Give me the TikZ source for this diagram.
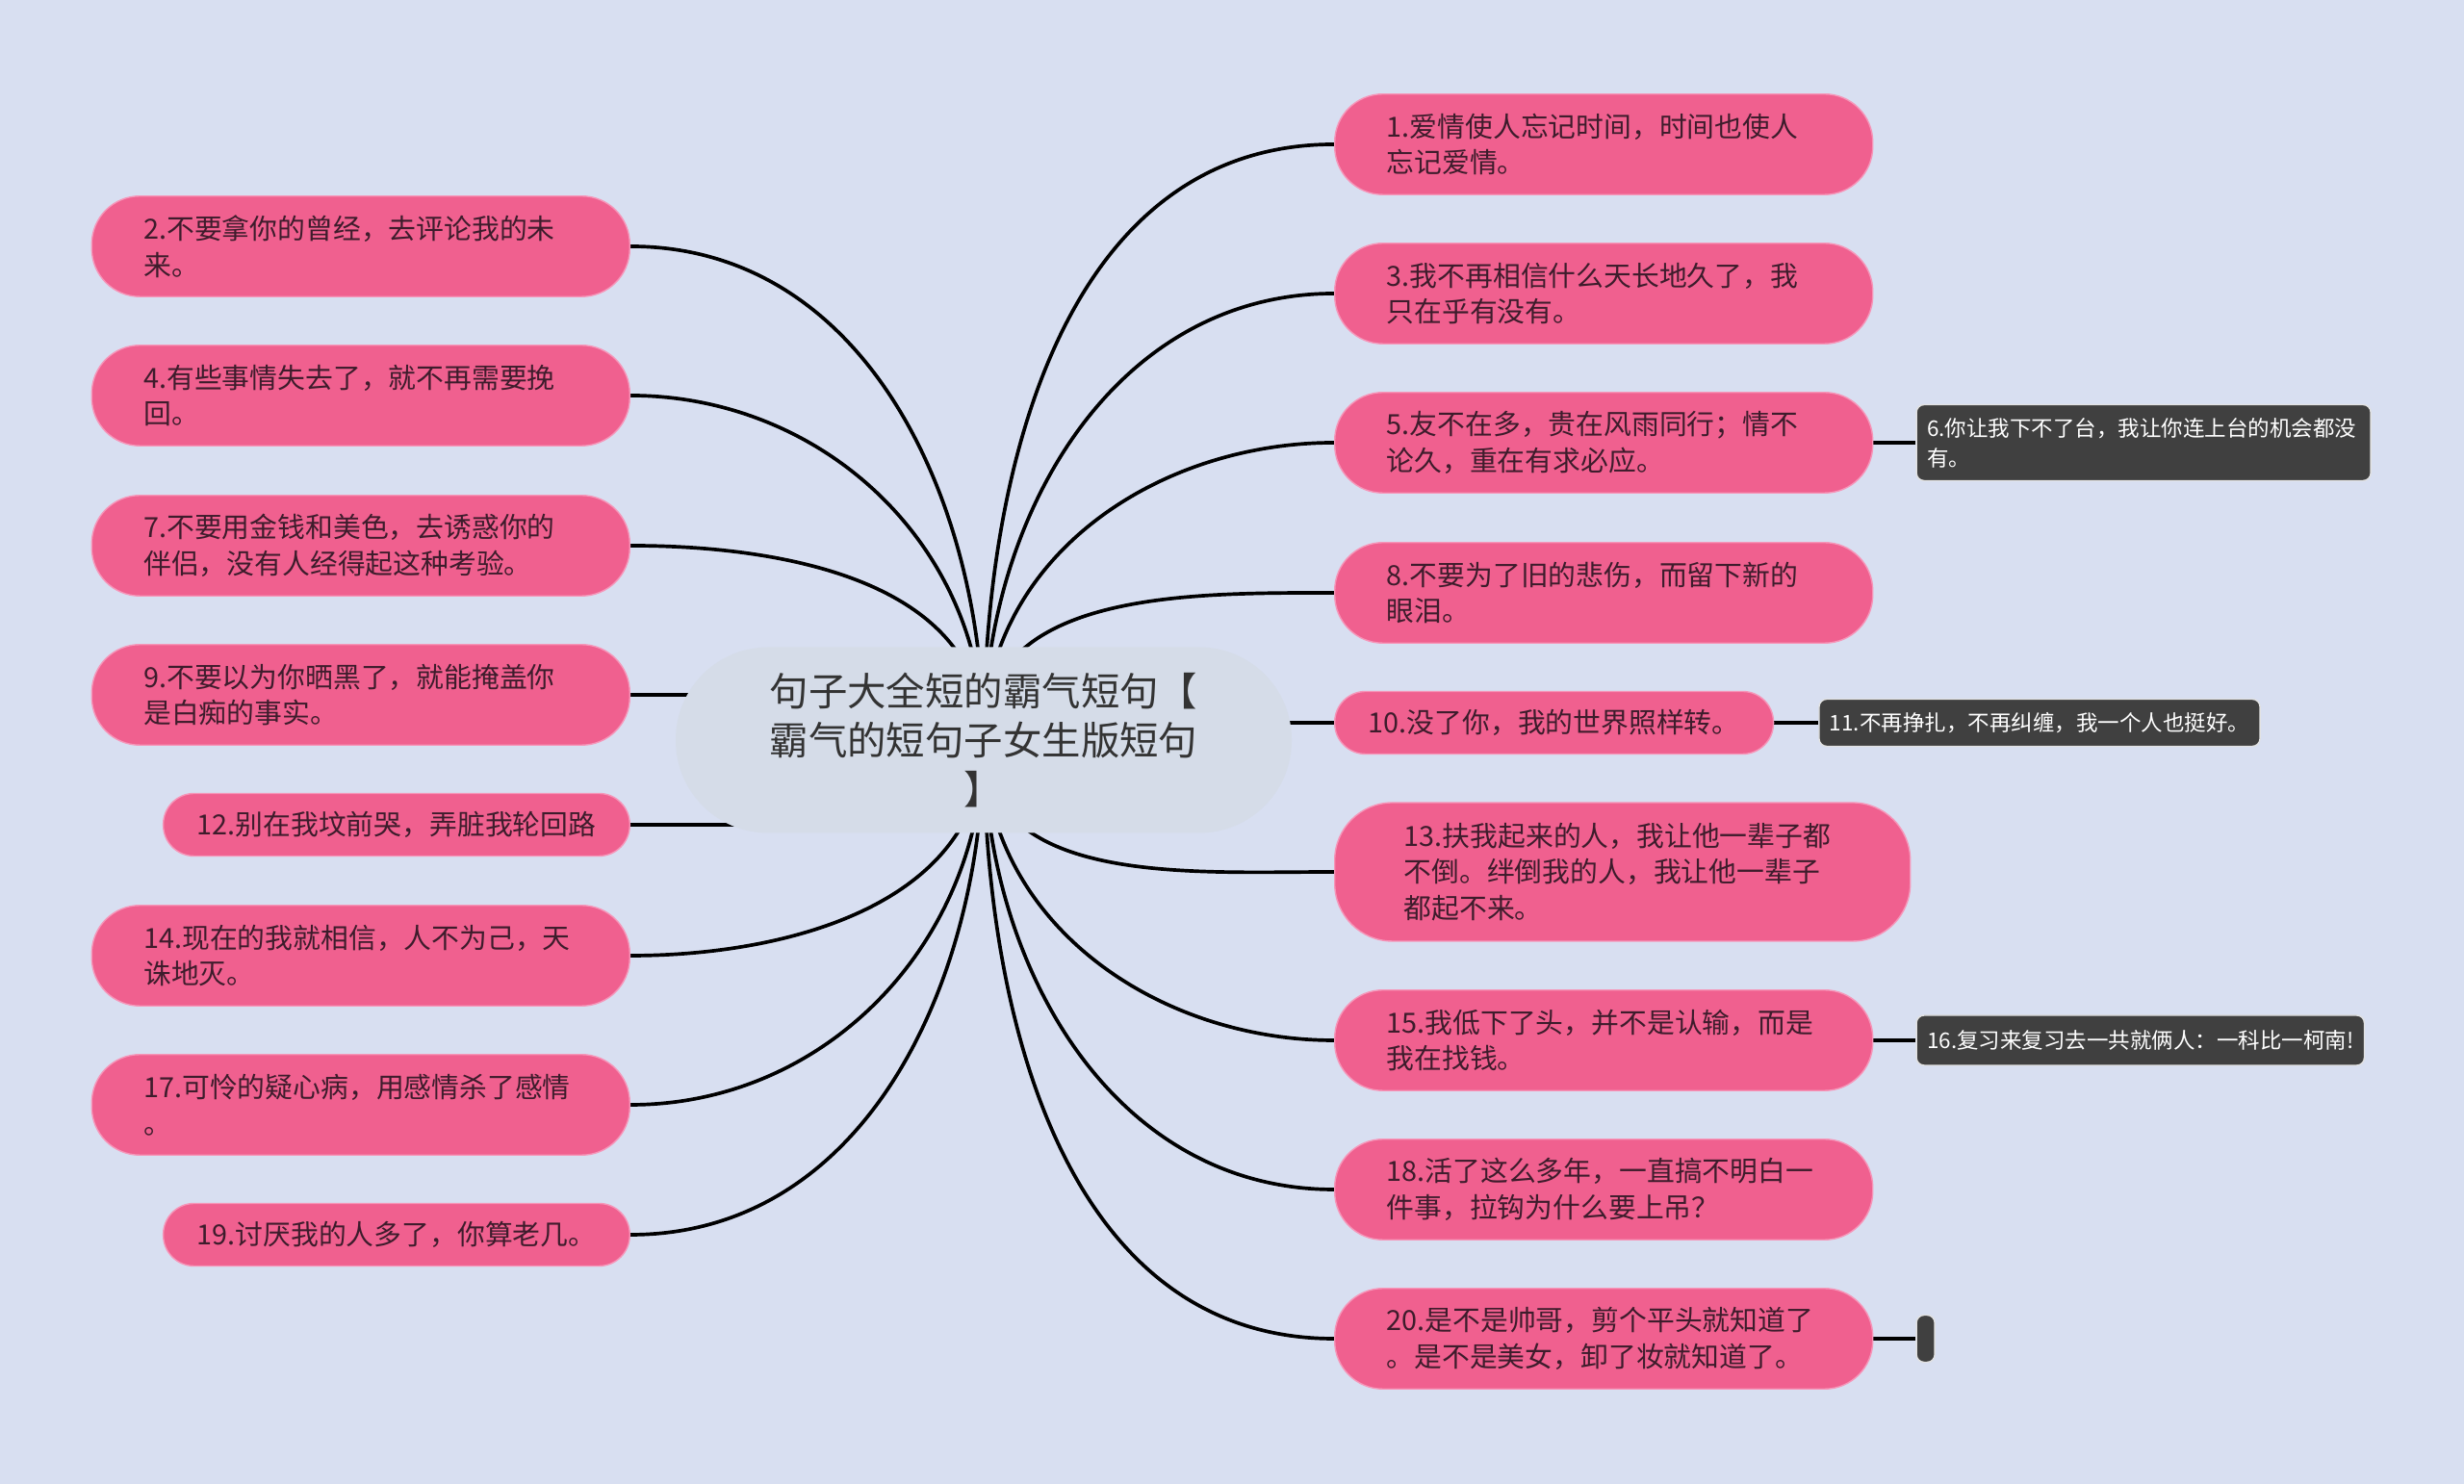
\documentclass[tikz,border=0pt]{standalone}
\usepackage{fontspec}
\setmainfont{Noto Sans CJK SC}
\usetikzlibrary{positioning,backgrounds}
\definecolor{MapBg}{RGB}{216,223,241}
\definecolor{RootFill}{RGB}{213,220,232}
\definecolor{RootText}{RGB}{51,51,51}
\definecolor{TopicPink}{RGB}{240,96,143}
\definecolor{PinkEdge}{RGB}{246,150,185}
\definecolor{TopicText}{RGB}{62,28,44}
\definecolor{NoteGrey}{RGB}{64,64,64}

\begin{document}
\begin{tikzpicture}[
    topic/.style={fill=TopicPink, draw=PinkEdge, line width=0.4pt, text=TopicText,
      inner ysep=0pt, font=\fontsize{8.2}{10.7}\selectfont},
    pinkbox/.style={topic, rounded corners=0.5cm, align=left, text width=4.51cm,
      inner xsep=0.54cm, minimum height=1.045cm},
    pinkline/.style={topic, rounded corners=0.32cm, inner xsep=0.35cm, minimum height=0.65cm},
    darkbox/.style={fill=NoteGrey, draw=white!85!NoteGrey, line width=0.4pt, text=white,
      rounded corners=0.08cm, inner xsep=0.11cm, inner ysep=0pt,
      font=\fontsize{6.4}{8.8}\selectfont},
    branch/.style={line width=1.05pt, black}
  ]
    \useasboundingbox (0,0) rectangle (25.6,15.42);

    % Zentrales Thema
    \node[fill=RootFill, text=RootText, rounded corners=0.96cm, minimum width=6.4cm,
      minimum height=1.93cm, align=center, font=\fontsize{11.5}{14.6}\selectfont]
      (root) at (10.22,7.73) {句子大全短的霸气短句【\\霸气的短句子女生版短句\\】};

    % Rechte Seite
    \node[pinkbox, anchor=west] (n1) at (13.86,13.92) {1.爱情使人忘记时间，时间也使人\\忘记爱情。};
    \node[pinkbox, anchor=west] (n3) at (13.86,12.37) {3.我不再相信什么天长地久了，我\\只在乎有没有。};
    \node[pinkbox, anchor=west] (n5) at (13.86,10.82) {5.友不在多，贵在风雨同行；情不\\论久，重在有求必应。};
    \node[pinkbox, anchor=west] (n8) at (13.86,9.26) {8.不要为了旧的悲伤，而留下新的\\眼泪。};
    \node[pinkline, anchor=west] (n10) at (13.86,7.91) {10.没了你，我的世界照样转。};
    \node[pinkbox, anchor=west, text width=4.54cm, inner xsep=0.72cm, minimum height=1.44cm,
      rounded corners=0.6cm] (n13) at (13.86,6.36)
      {13.扶我起来的人，我让他一辈子都\\不倒。绊倒我的人，我让他一辈子\\都起不来。};
    \node[pinkbox, anchor=west] (n15) at (13.86,4.61) {15.我低下了头，并不是认输，而是\\我在找钱。};
    \node[pinkbox, anchor=west] (n18) at (13.86,3.06) {18.活了这么多年，一直搞不明白一\\件事，拉钩为什么要上吊？};
    \node[pinkbox, anchor=west] (n20) at (13.86,1.51) {20.是不是帅哥，剪个平头就知道了\\。是不是美女，卸了妆就知道了。};

    % Linke Seite
    \node[pinkbox, anchor=east] (n2) at (6.55,12.86) {2.不要拿你的曾经，去评论我的未\\来。};
    \node[pinkbox, anchor=east] (n4) at (6.55,11.31) {4.有些事情失去了，就不再需要挽\\回。};
    \node[pinkbox, anchor=east] (n7) at (6.55,9.75) {7.不要用金钱和美色，去诱惑你的\\伴侣，没有人经得起这种考验。};
    \node[pinkbox, anchor=east] (n9) at (6.55,8.20) {9.不要以为你晒黑了，就能掩盖你\\是白痴的事实。};
    \node[pinkline, anchor=east] (n12) at (6.55,6.85) {12.别在我坟前哭，弄脏我轮回路};
    \node[pinkbox, anchor=east] (n14) at (6.55,5.49) {14.现在的我就相信，人不为己，天\\诛地灭。};
    \node[pinkbox, anchor=east] (n17) at (6.55,3.94) {17.可怜的疑心病，用感情杀了感情\\。};
    \node[pinkline, anchor=east] (n19) at (6.55,2.59) {19.讨厌我的人多了，你算老几。};

    % Unterthemen
    \node[darkbox, right=0.44cm of n5, align=left, text width=4.5cm, minimum height=0.79cm] (n6)
      {6.你让我下不了台，我让你连上台的机会都没\\有。};
    \node[darkbox, right=0.46cm of n10, minimum height=0.49cm] (n11) {11.不再挣扎，不再纠缠，我一个人也挺好。};
    \node[darkbox, right=0.44cm of n15, minimum height=0.52cm] (n16) {16.复习来复习去一共就俩人：一科比一柯南!};
    \node[darkbox, right=0.44cm of n20, minimum width=0.19cm, minimum height=0.49cm,
      inner xsep=0pt] (n21) {};

    % Hintergrund und Verbindungen
    \begin{pgfonlayer}{background}
      \fill[MapBg] (0,0) rectangle (25.6,15.42);
      \foreach \n in {n1,n3,n5,n8}
        \draw[branch] (root.center) to[out=90, in=180] (\n.west);
      \foreach \n in {n13,n15,n18,n20}
        \draw[branch] (root.center) to[out=-90, in=180] (\n.west);
      \foreach \n in {n2,n4,n7}
        \draw[branch] (root.center) to[out=90, in=0] (\n.east);
      \foreach \n in {n14,n17,n19}
        \draw[branch] (root.center) to[out=-90, in=0] (\n.east);
      \draw[branch] (root.center |- n10.west) -- (n10.west);
      \draw[branch] (root.center |- n9.east) -- (n9.east);
      \draw[branch] (root.center |- n12.east) -- (n12.east);
      \draw[branch] (n5.east) -- (n6.west);
      \draw[branch] (n10.east) -- (n11.west);
      \draw[branch] (n15.east) -- (n16.west);
      \draw[branch] (n20.east) -- (n21.west);
    \end{pgfonlayer}
  \end{tikzpicture}
\end{document}
